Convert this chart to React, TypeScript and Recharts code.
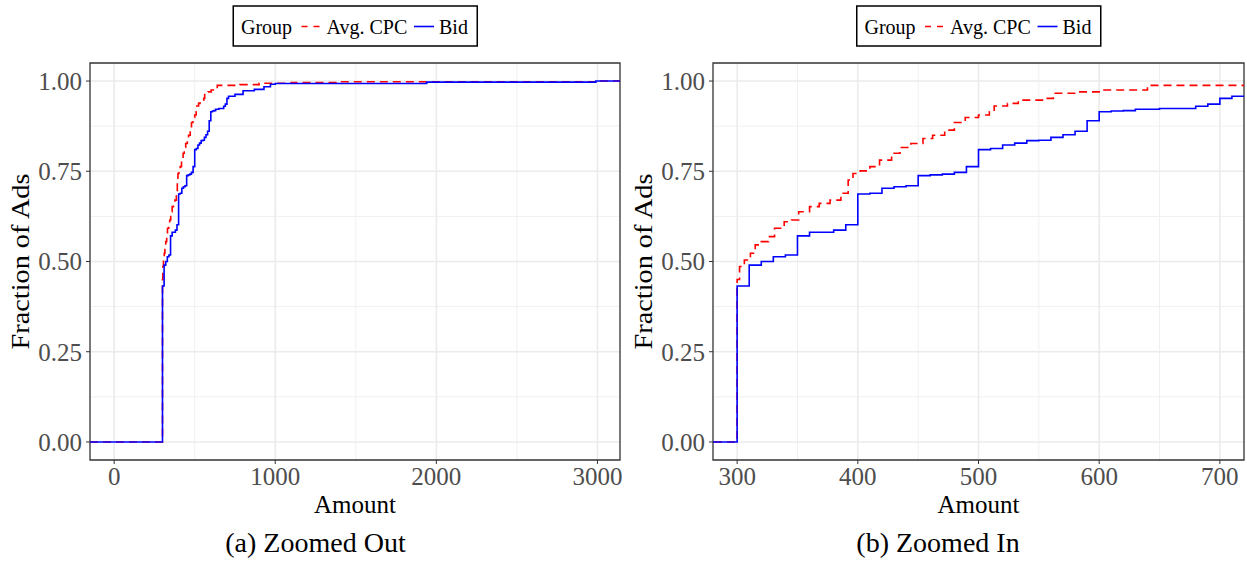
import React from 'react';
import { LineChart, Line, XAxis, YAxis, CartesianGrid, ReferenceArea } from 'recharts';

// ECDF steps: [amount, cumulative fraction of ads]
const bidSteps: [number, number][] = [
  [-150, 0], [300, 0.432], [310, 0.49], [320, 0.5], [330, 0.513], [340, 0.518],
  [350, 0.571], [360, 0.581], [380, 0.587], [390, 0.602], [400, 0.687], [410, 0.689],
  [420, 0.703], [430, 0.707], [440, 0.71], [450, 0.738], [460, 0.74], [470, 0.742],
  [480, 0.747], [490, 0.763], [500, 0.81], [510, 0.813], [520, 0.823], [530, 0.828],
  [540, 0.835], [550, 0.836], [560, 0.844], [570, 0.851], [580, 0.861], [590, 0.89],
  [600, 0.915], [610, 0.917], [620, 0.918], [630, 0.922], [650, 0.924], [680, 0.93],
  [690, 0.936], [700, 0.952], [710, 0.958], [750, 0.963], [800, 0.973], [870, 0.977],
  [930, 0.984], [970, 0.991], [1000, 0.993], [1940, 0.997], [2990, 1], [3140, 1],
];

const cpcSteps: [number, number][] = [
  [-150, 0], [300, 0.45], [302, 0.486], [306, 0.504], [311, 0.523], [315, 0.546],
  [320, 0.555], [326, 0.569], [331, 0.592], [339, 0.61], [345, 0.615], [351, 0.638],
  [360, 0.652], [368, 0.661], [377, 0.67], [386, 0.689], [392, 0.726], [396, 0.744],
  [402, 0.751], [410, 0.763], [418, 0.781], [428, 0.8], [435, 0.816], [444, 0.827],
  [454, 0.841], [462, 0.85], [472, 0.864], [480, 0.885], [489, 0.899], [500, 0.906],
  [509, 0.915], [513, 0.931], [524, 0.938], [533, 0.947], [556, 0.952], [562, 0.966],
  [583, 0.97], [602, 0.975], [640, 0.988], [780, 0.99], [900, 0.994], [1100, 0.996],
  [1380, 0.998], [2990, 1], [3140, 1],
];

const fracTicks = [0, 0.25, 0.5, 0.75, 1];
const fracMinor = [0.125, 0.375, 0.625, 0.875];
const outTicks = [0, 1000, 2000, 3000];
const outMinor = [500, 1500, 2500];
const inTicks = [300, 400, 500, 600, 700];
const inMinor = [350, 450, 550, 650];

const FONT = '"Liberation Serif", "Times New Roman", serif';
const RED = '#ff0000';
const BLUE = '#0000ff';

const toPoints = (steps: [number, number][]) => steps.map(([amount, frac]) => ({ amount, frac }));
const bidData = toPoints(bidSteps);
const cpcData = toPoints(cpcSteps);

interface PanelProps {
  left: number;
  width: number;
  domain: [number, number];
  ticks: number[];
  minor: number[];
}

const Panel: React.FC<PanelProps> = ({ left, width, domain, ticks, minor }) => (
  <div style={{ position: 'absolute', left, top: 0 }}>
    <LineChart width={width} height={520} margin={{ top: 63, right: 3, bottom: 20, left: 10 }}>
      <CartesianGrid horizontalValues={fracMinor} verticalValues={minor} stroke="#f0f0f0" strokeWidth={1} />
      <CartesianGrid horizontalValues={fracTicks} verticalValues={ticks} stroke="#ebebeb" strokeWidth={1.6} />
      <XAxis
        dataKey="amount"
        type="number"
        domain={domain}
        ticks={ticks}
        interval={0}
        allowDataOverflow
        axisLine={false}
        tickLine={{ stroke: '#333333' }}
        tickSize={4}
        tickMargin={3}
        height={40}
        tick={{ fill: '#4d4d4d', fontSize: 25, fontFamily: FONT }}
      />
      <YAxis
        type="number"
        domain={[-0.05, 1.05]}
        ticks={fracTicks}
        interval={0}
        allowDataOverflow
        axisLine={false}
        tickLine={{ stroke: '#333333' }}
        tickSize={4}
        tickMargin={4}
        width={80}
        tickFormatter={(v: number) => v.toFixed(2)}
        tick={{ fill: '#4d4d4d', fontSize: 25, fontFamily: FONT }}
      />
      <Line data={cpcData} dataKey="frac" type="stepAfter" stroke={RED} strokeWidth={1.6}
        strokeDasharray="8 5" dot={false} activeDot={false} isAnimationActive={false} />
      <Line data={bidData} dataKey="frac" type="stepAfter" stroke={BLUE} strokeWidth={1.6}
        dot={false} activeDot={false} isAnimationActive={false} />
      <ReferenceArea x1={domain[0]} x2={domain[1]} y1={-0.05} y2={1.05}
        fill="none" fillOpacity={0} stroke="#333333" strokeWidth={1.3} strokeOpacity={1} />
    </LineChart>
  </div>
);

const LegendBox: React.FC<{ x: number }> = ({ x }) => (
  <g transform={`translate(${x},0)`} fontSize={20} fill="#000">
    <rect x={0.75} y={6} width={244} height={40} fill="#fff" stroke="#000" strokeWidth={1.5} />
    <text x={8.5} y={33.5}>Group</text>
    <line x1={69} x2={87} y1={26.5} y2={26.5} stroke={RED} strokeWidth={1.6} strokeDasharray="6 6" />
    <text x={94} y={33.5}>Avg. CPC</text>
    <line x1={181.5} x2={201.5} y1={26.5} y2={26.5} stroke={BLUE} strokeWidth={1.6} />
    <text x={206.5} y={33.5}>Bid</text>
  </g>
);

const Titles: React.FC<{ cx: number; dx: number }> = ({ cx, dx }) => (
  <g fill="#000">
    <text x={cx} y={513} fontSize={25} textAnchor="middle">Amount</text>
    <text transform={`translate(${28.5 + dx},261.5) rotate(-90)`} fontSize={25} textAnchor="middle"
      textLength={176} lengthAdjust="spacingAndGlyphs">Fraction of Ads</text>
  </g>
);

export default function App() {
  return (
    <div style={{ position: 'absolute', left: 0, top: 0, width: 1247, height: 567, background: '#fff', fontFamily: FONT }}>
      <Panel left={0} width={623} domain={[-150, 3140]} ticks={outTicks} minor={outMinor} />
      <Panel left={623} width={624} domain={[280, 720]} ticks={inTicks} minor={inMinor} />
      <svg width={1247} height={567} style={{ position: 'absolute', left: 0, top: 0, pointerEvents: 'none' }} fontFamily={FONT}>
        <LegendBox x={232.5} />
        <LegendBox x={856} />
        <Titles cx={355} dx={0} />
        <Titles cx={978.5} dx={623} />
        <text x={315.5} y={552} fontSize={28} textAnchor="middle" fill="#000">(a) Zoomed Out</text>
        <text x={938} y={552} fontSize={28} textAnchor="middle" fill="#000">(b) Zoomed In</text>
      </svg>
    </div>
  );
}
